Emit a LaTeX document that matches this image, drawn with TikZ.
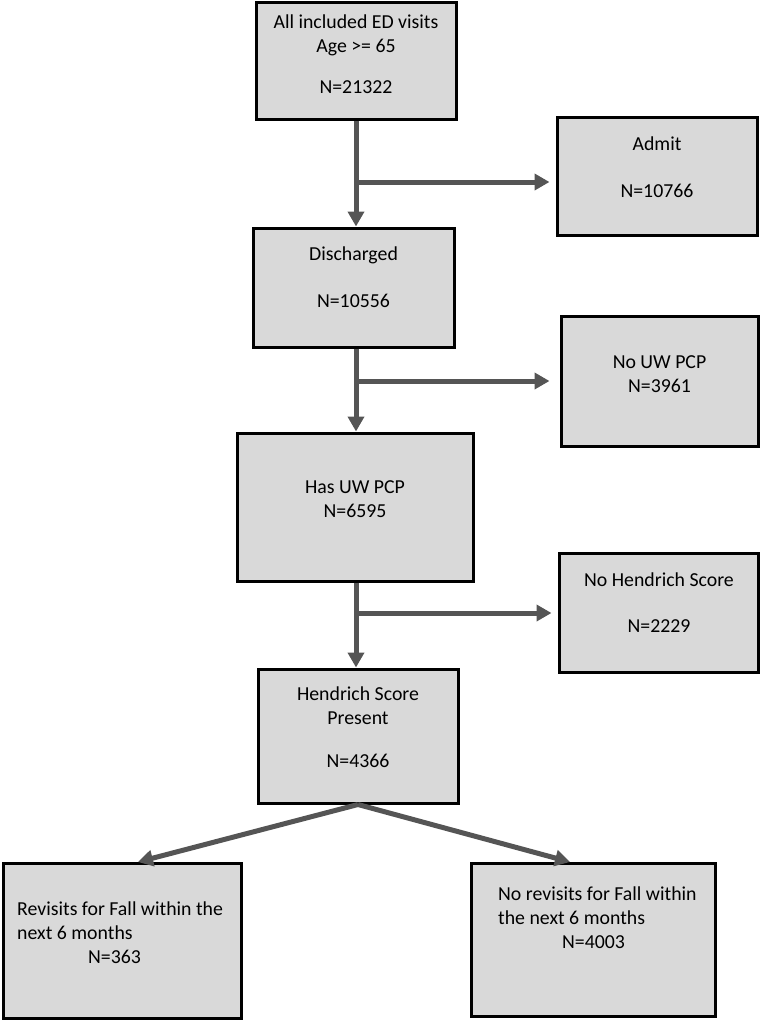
\documentclass[tikz,border=0pt]{standalone}
\usepackage{fontspec}
\setmainfont{Carlito}
\usepackage{xcolor}
\usepackage{tikz}
\usetikzlibrary{positioning, arrows.meta, calc}

\definecolor{boxfill}{HTML}{D9D9D9}
\definecolor{linegray}{HTML}{555555}

\begin{document}
\begin{tikzpicture}[
  x=1pt, y=-1pt,
  font=\fontsize{19.8}{24}\selectfont,
  box/.style={draw=black, line width=3pt, fill=boxfill, rectangle, inner sep=0pt},
  txt/.style={align=center, inner sep=0pt, anchor=base},
  ltxt/.style={align=left, inner sep=0pt, anchor=base west},
  conn/.style={draw=linegray, line width=5pt, -{Triangle[length=15pt, width=16pt]}},
]
\useasboundingbox (0,0) rectangle (761,1020);

% Main column
\node[box, minimum width=200, minimum height=117] (all) at (356, 60.5)  {};
\node[box, minimum width=201, minimum height=119] (dis) at (353.5, 287.5) {};
\node[box, minimum width=236, minimum height=148] (pcp) at (355, 507)   {};
\node[box, minimum width=200, minimum height=134] (hs)  at (358, 736)   {};

% Excluded boxes (right)
\node[box, minimum width=200, minimum height=118] (admit) at (657, 176)    {};
\node[box, minimum width=197, minimum height=130] (noPcp) at (659.5, 381)  {};
\node[box, minimum width=199, minimum height=119] (noHs)  at (658.5, 612.5) {};

% Outcome boxes
\node[box, minimum width=238, minimum height=155] (rev)   at (122, 940.5) {};
\node[box, minimum width=244, minimum height=153] (noRev) at (593, 939.5) {};

% Box texts (placed at the baseline of the last line)
\node[txt] (allT)   at (356, 93)    {All included ED visits\\Age >= 65\\[17pt]N=21322};
\node[txt] (disT)   at (353.5, 307) {Discharged\\[23pt]N=10556};
\node[txt] (pcpT)   at (355, 517)   {Has UW PCP\\N=6595};
\node[txt] (hsT)    at (358, 767)   {Hendrich Score\\Present\\[19pt]N=4366};
\node[txt] (admitT) at (657, 197)   {Admit\\[23pt]N=10766};
\node[txt] (noPcpT) at (659.5, 392) {No UW PCP\\N=3961};
\node[txt] (noHsT)  at (659, 632)   {No Hendrich Score\\[22pt]N=2229};
\node[ltxt] (revT)   at (17, 963)
  {Revisits for Fall within the\\next 6 months\\\hspace*{71pt}N=363};
\node[ltxt] (noRevT) at (498, 948)
  {No revisits for Fall within\\the next 6 months\\\hspace*{64pt}N=4003};

% Branch points on the main line
\coordinate (br1) at (356, 182);
\coordinate (br2) at (356, 381);
\coordinate (br3) at (356, 613);
\coordinate (revIn)   at (138, 862);
\coordinate (noRevIn) at (570, 862);

% Vertical arrows
\draw[conn] (all.south) -- (all.south |- dis.north);
\draw[conn] (all.south |- dis.south) -- (all.south |- pcp.north);
\draw[conn] (all.south |- pcp.south) -- (all.south |- hs.north);

% Side arrows
\draw[conn, shorten >=6pt] (br1) -- (br1 -| admit.west);
\draw[conn, shorten >=10pt] (br2) -- (br2 -| noPcp.west);
\draw[conn, shorten >=6pt] (br3) -- (br3 -| noHs.west);

% Split at the bottom
\draw[conn] (hs.south) -- (revIn);
\draw[conn] (hs.south) -- (noRevIn);
\end{tikzpicture}
\end{document}
